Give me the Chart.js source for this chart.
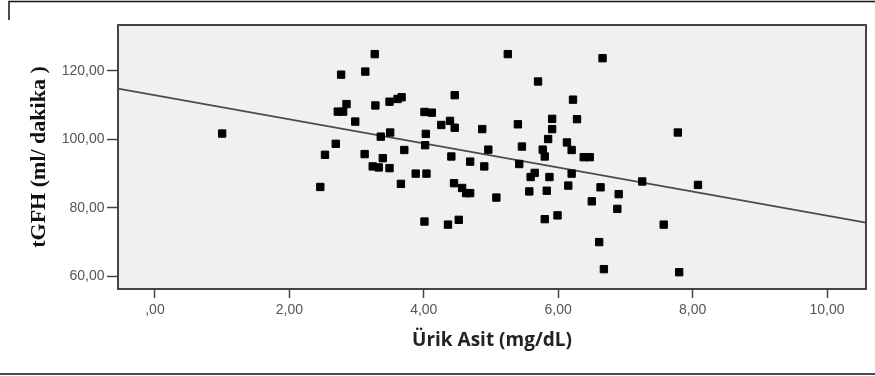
<!DOCTYPE html>
<html>
<head>
<meta charset="utf-8">
<script src="https://cdn.jsdelivr.net/npm/chart.js@4"></script>
<style>
  html, body { margin: 0; padding: 0; background: #fff; }
  #wrap { position: relative; width: 875px; height: 376px; }
</style>
</head>
<body>
<div id="wrap"><canvas id="chart" width="875" height="376"></canvas></div>
<script>
// values
const uricAcid = [1.00, 2.46, 2.53, 2.69, 2.72, 2.77, 2.80, 2.85, 2.98, 3.12,
  3.13, 3.24, 3.27, 3.28, 3.33, 3.36, 3.39, 3.49, 3.49, 3.50,
  3.61, 3.66, 3.67, 3.71, 3.88, 4.01, 4.03, 4.02, 4.04, 4.01,
  4.12, 4.26, 4.36, 4.39, 4.41, 4.45, 4.46, 4.46, 4.52, 4.57,
  4.63, 4.69, 4.69, 4.87, 4.90, 4.96, 5.08, 5.25, 5.40, 5.42,
  5.46, 5.57, 5.59, 5.65, 5.70, 5.77, 5.80, 5.80, 5.83, 5.85,
  5.87, 5.91, 5.91, 5.99, 6.13, 6.15, 6.20, 6.20, 6.22, 6.28,
  6.38, 6.47, 6.50, 6.61, 6.63, 6.66, 6.68, 6.88, 6.90, 7.25,
  7.57, 7.78, 7.80, 8.08];
const tgfh = [101.7, 86.1, 95.5, 98.7, 108.1, 118.9, 108.1, 110.3, 105.2, 95.7,
  119.8, 92.1, 124.9, 109.9, 91.8, 100.8, 94.5, 111.0, 91.6, 102.0,
  111.8, 87.0, 112.3, 96.9, 90.0, 108.0, 101.6, 98.3, 90.0, 76.0,
  107.8, 104.2, 75.1, 105.4, 95.0, 87.2, 112.9, 103.4, 76.5, 85.8,
  84.3, 84.3, 93.5, 103.0, 92.1, 97.0, 83.0, 124.9, 104.4, 92.8,
  97.9, 84.8, 89.0, 90.2, 116.9, 97.0, 95.0, 76.7, 85.0, 100.1,
  89.0, 106.0, 103.0, 77.8, 99.1, 86.5, 96.9, 90.0, 111.6, 105.9,
  94.8, 94.8, 81.9, 70.0, 86.0, 123.7, 62.1, 79.7, 84.0, 87.7,
  75.1, 102.0, 61.2, 86.7];

// fit line end points (at the plot edges)
const fitX = [-0.55, 10.58];
const fitY = [114.8, 75.7];

const xTicks = [0, 2, 4, 6, 8, 10];
const yTicks = [60, 80, 100, 120];

const points = uricAcid.map((v, i) => ({ x: v, y: tgfh[i] }));
const fitLine = fitX.map((v, i) => ({ x: v, y: fitY[i] }));

const fmt = v => v === 0 ? ',00' : v.toFixed(2).replace('.', ',');

const frame = {
  id: 'frame',
  beforeDraw(chart) {
    const { ctx, chartArea: a } = chart;
    ctx.save();
    ctx.fillStyle = '#f0f0f0';
    ctx.fillRect(a.left, a.top, a.right - a.left, a.bottom - a.top);
    // outer page frame
    ctx.strokeStyle = '#111';
    ctx.lineWidth = 1.5;
    ctx.beginPath();
    ctx.moveTo(9, 20);
    ctx.lineTo(9, 1.5);
    ctx.lineTo(875, 1.5);
    ctx.moveTo(0, 374);
    ctx.lineTo(875, 374);
    ctx.stroke();
    ctx.restore();
  },
  afterDraw(chart) {
    const { ctx, chartArea: a } = chart;
    ctx.save();
    ctx.strokeStyle = '#444';
    ctx.lineWidth = 2;
    ctx.strokeRect(a.left, a.top, a.right - a.left, a.bottom - a.top);
    ctx.restore();
  }
};

new Chart(document.getElementById('chart'), {
  type: 'scatter',
  data: {
    datasets: [
      {
        data: fitLine,
        showLine: true,
        borderColor: '#4a4a4a',
        borderWidth: 1.8,
        pointRadius: 0,
        order: 2
      },
      {
        data: points,
        pointStyle: 'rect',
        pointRadius: 5.2,
        pointHoverRadius: 5.2,
        backgroundColor: '#000',
        borderColor: '#000',
        borderWidth: 1,
        order: 1
      }
    ]
  },
  options: {
    responsive: false,
    animation: false,
    events: [],
    layout: { padding: { left: 0, right: 9, top: 25, bottom: 20 } },
    plugins: { legend: { display: false }, tooltip: { enabled: false } },
    scales: {
      x: {
        type: 'linear',
        min: -0.55,
        max: 10.58,
        afterBuildTicks: s => { s.ticks = xTicks.map(v => ({ value: v })); },
        afterFit: s => { s.height = 67; },
        border: { display: false },
        grid: { drawOnChartArea: false, drawTicks: true, tickLength: 9, tickColor: '#444', tickWidth: 1.5 },
        ticks: {
          padding: 4,
          color: '#555',
          font: { family: 'Liberation Sans, Arial, sans-serif', size: 14 },
          callback: v => fmt(v)
        },
        title: {
          display: true,
          text: 'Ürik Asit (mg/dL)',
          color: '#222',
          font: { family: 'Open Sans, sans-serif', size: 19, weight: 'bold' },
          padding: { top: 0, bottom: 4 }
        }
      },
      y: {
        type: 'linear',
        min: 56.3,
        max: 133.4,
        afterBuildTicks: s => { s.ticks = yTicks.map(v => ({ value: v })); },
        afterFit: s => { s.width = 118; },
        border: { display: false },
        grid: { drawOnChartArea: false, drawTicks: true, tickLength: 11, tickColor: '#444', tickWidth: 1.5 },
        ticks: {
          padding: 2.5,
          color: '#555',
          font: { family: 'Liberation Sans, Arial, sans-serif', size: 14 },
          callback: v => fmt(v)
        },
        title: {
          display: true,
          text: 'tGFH (ml/ dakika )',
          color: '#111',
          font: { family: 'Liberation Serif, Times New Roman, serif', size: 22, weight: 'bold' },
          padding: { top: 26, bottom: 0 }
        }
      }
    }
  },
  plugins: [frame]
});
</script>
</body>
</html>
